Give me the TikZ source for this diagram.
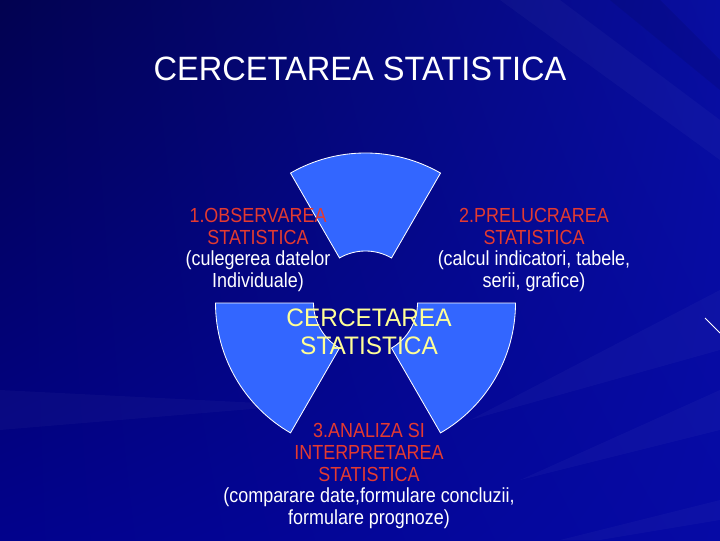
\documentclass[tikz,border=0pt]{standalone}
\usepackage{fontspec}
\setmainfont{Liberation Sans}
\newfontfamily\lblfont[FakeStretch=0.88]{Liberation Sans}
\newfontfamily\titlefont[FakeStretch=0.965]{Liberation Sans}
\usetikzlibrary{calc,positioning,shadings}
\definecolor{bgtl}{RGB}{2,2,80}
\definecolor{bgtr}{RGB}{8,14,160}
\definecolor{bgbl}{RGB}{2,2,140}
\definecolor{bgbr}{RGB}{6,10,165}
\definecolor{wedgeblue}{RGB}{51,102,255}
\definecolor{headred}{RGB}{228,58,48}
\definecolor{coreyellow}{RGB}{255,255,150}
\newcommand{\hd}[1]{\textcolor{headred}{#1}}

\begin{document}
\begin{tikzpicture}[x=0.025cm,y=0.025cm]
			\tikzstyle{wedge}=[fill=wedgeblue, draw=white, line width=0.6pt]
			\tikzstyle{lbl}=[align=center, inner sep=0pt, text=white, font=\lblfont\fontsize{14.5}{15.6}\selectfont]
			\tikzstyle{streak}=[fill=white, opacity=0.03]
			\useasboundingbox (0,0) rectangle (720,540);
			% background
			\shade[upper left=bgtl, upper right=bgtr, lower left=bgbl, lower right=bgbr] (0,0) rectangle (720,540);
			\fill[streak] (500,540) -- (560,540) -- (720,420) -- (720,380) -- cycle;
			\fill[black, opacity=0.08] (610,540) -- (660,540) -- (720,480) -- (720,450) -- cycle;
			\fill[streak] (720,250) -- (720,190) -- (470,120) -- cycle;
			\fill[streak] (720,150) -- (720,110) -- (520,60) -- cycle;
			\fill[streak] (0,150) -- (0,110) -- (300,135) -- cycle;
			\fill[streak] (720,40) -- (720,20) -- (600,0) -- (560,0) -- cycle;
			\draw[white, line width=0.6pt] (705,222) -- (720,207);
			% wedges
			\coordinate (c) at (365.5,237);
			\foreach \a/\b in {60/120,180/240,300/360}
				\draw[wedge] ($(c)+(\a:52)$) -- ($(c)+(\a:150)$) arc[start angle=\a, end angle=\b, radius=150]
					-- ($(c)+(\b:52)$) arc[start angle=\b, end angle=\a, radius=52] -- cycle;
			% texts
			\node[text=white, font=\titlefont\fontsize{24}{26}\selectfont] (title) at (360,471) {CERCETAREA STATISTICA};
			\node[lbl] (obs) at (258,290) {\hd{1.OBSERVAREA}\\\hd{STATISTICA}\\(culegerea datelor\\Individuale)};
			\node[lbl] (prel) at (534,290) {\hd{2.PRELUCRAREA}\\\hd{STATISTICA}\\(calcul indicatori, tabele,\\serii, grafice)};
			\node[lbl] (anal) at (369,64) {\hd{3.ANALIZA SI}\\\hd{INTERPRETAREA}\\\hd{STATISTICA}\\(comparare date,formulare concluzii,\\formulare prognoze)};
			\node[align=center, inner sep=0pt, text=coreyellow, font=\titlefont\fontsize{18}{19.8}\selectfont] (core) at (369,208) {CERCETAREA\\STATISTICA};
		\end{tikzpicture}
\end{document}
